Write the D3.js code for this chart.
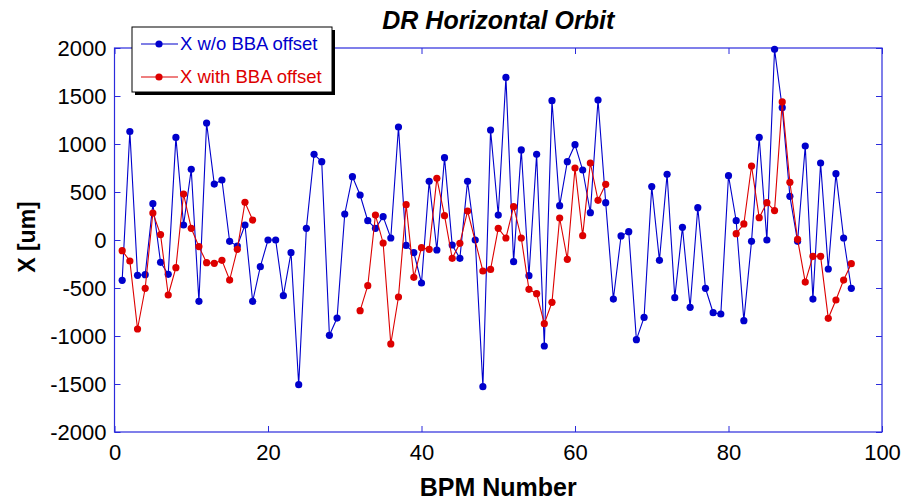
<!DOCTYPE html>
<html>
<head>
<meta charset="utf-8">
<script src="https://cdn.jsdelivr.net/npm/d3@7"></script>
<style>
  body { margin: 0; background: #fff; }
  text { font-family: Arial, "Liberation Sans", sans-serif; }
</style>
</head>
<body>
<div id="container"></div>
<script>
// BPM index for the uncorrected orbit (1..96)
var blueBpm = d3.range(1, 97);
var blueX = [
  -420, 1130, -368, -361, 378, -233, -358, 1069, 156, 736,
  -639, 1219, 583, 625, -14, -63, 156, -639, -278, 0,
  0, -580, -132, -1507, 122, 892, 816, -993, -813, 271,
  660, 469, 201, 122, 243, 21, 1177, -56, -132, -448,
  611, -104, 858, -52, -191, 611, 0, -1528, 1146, 260,
  1694, -226, 938, -372, 892, -1104, 1451, 358, 816, 993,
  729, 285, 1458, 389, -615, 42, 87, -1038, -806, 556,
  -212, 684, -601, 132, -701, 337, -503, -757, -771, 670,
  201, -840, -14, 1069, 0, 1986, 1378, 455, -14, 979,
  -615, 802, -302, 691, 21, -503
];

// corrected orbit: only some BPMs, null = gap in the line
var redBpm = [
  1, 2, 3, 4, 5, 6, 7, 8, 9, 10, 11, 12, 13, 14, 15, 16, 17, 18,
  null,
  32, 33, 34, 35, 36, 37, 38, 39, 40, 41, 42, 43, 44, 45, 46, 48, 49, 50,
  51, 52, 53, 54, 55, 56, 57, 58, 59, 60, 61, 62, 63, 64,
  null,
  81, 82, 83, 84, 85, 86, 87, 88, 89, 90, 91, 92, 93, 94, 95, 96
];
var redX = [
  -111, -219, -927, -503, 281, 56, -573, -288, 479, 122, -69, -236, -243, -212, -417, -97, 392, 208,
  null,
  -736, -476, 260, -31, -1083, -594, 368, -389, -80, -97, 642, 253, -191, -35, 302, -323, -306, 122,
  21, 347, 21, -514, -559, -872, -649, 229, -201, 750, 45, 802, 413, 580,
  null,
  66, 167, 771, 233, 389, 306, 1438, 601, 7, -438, -170, -170, -816, -625, -417, -247
];

var xTicks = [0, 20, 40, 60, 80, 100];
var yTicks = [-2000, -1500, -1000, -500, 0, 500, 1000, 1500, 2000];
var seriesNames = ["X w/o BBA offset", "X with BBA offset"];

var w = 906, h = 500;
var plotL = 114.5, plotR = 882, plotT = 48, plotB = 432;
var axisColor = "#2b2bdc";
var blueColor = "#0000cc";
var redColor = "#dd0000";

var svg = d3.select("div#container")
            .append("svg")
            .attr("width", w)
            .attr("height", h);

var x = d3.scaleLinear().domain([0, 100]).range([plotL, plotR]);
var y = d3.scaleLinear().domain([-2000, 2000]).range([plotB, plotT]);

// axes with inward ticks, box style
var tick = 6;
var fmt = d => String(d);
svg.append("g")
   .attr("transform", "translate(0," + plotB + ")")
   .call(d3.axisBottom(x).tickValues(xTicks).tickFormat(fmt).tickSizeInner(-tick).tickSizeOuter(0).tickPadding(12))
   .call(g => g.select(".domain").remove());
svg.append("g")
   .attr("transform", "translate(0," + plotT + ")")
   .call(d3.axisTop(x).tickValues(xTicks).tickSizeInner(-tick).tickSizeOuter(0).tickFormat(""))
   .call(g => g.select(".domain").remove());
svg.append("g")
   .attr("transform", "translate(" + plotL + ",0)")
   .call(d3.axisLeft(y).tickValues(yTicks).tickFormat(fmt).tickSizeInner(-tick).tickSizeOuter(0).tickPadding(8))
   .call(g => g.select(".domain").remove());
svg.append("g")
   .attr("transform", "translate(" + plotR + ",0)")
   .call(d3.axisRight(y).tickValues(yTicks).tickSizeInner(-tick).tickSizeOuter(0).tickFormat(""))
   .call(g => g.select(".domain").remove());

svg.selectAll(".tick line").attr("stroke", axisColor);
svg.selectAll(".tick text")
   .attr("fill", "#000")
   .style("font-size", "22px")
   .style("font-family", "Arial, 'Liberation Sans', sans-serif");

svg.append("rect")
   .attr("x", plotL).attr("y", plotT)
   .attr("width", plotR - plotL).attr("height", plotB - plotT)
   .attr("fill", "none")
   .attr("stroke", axisColor)
   .attr("stroke-width", 1.2);

// lines + markers
var line = d3.line()
             .defined(d => d[1] !== null)
             .x(d => x(d[0]))
             .y(d => y(d[1]));

var blueData = blueBpm.map((b, i) => [b, blueX[i]]);
var redData = redBpm.map((b, i) => [b, redX[i]]);

function drawSeries(data, color) {
    svg.append("path")
       .datum(data)
       .attr("fill", "none")
       .attr("stroke", color)
       .attr("stroke-width", 1.1)
       .attr("d", line);
    svg.append("g")
       .selectAll("circle")
       .data(data.filter(d => d[1] !== null))
       .enter()
       .append("circle")
       .attr("cx", d => x(d[0]))
       .attr("cy", d => y(d[1]))
       .attr("r", 3.6)
       .attr("fill", color);
}
drawSeries(blueData, blueColor);
drawSeries(redData, redColor);

// titles
svg.append("text")
   .attr("x", (plotL + plotR) / 2).attr("y", 29)
   .attr("text-anchor", "middle")
   .style("font-size", "25px").style("font-weight", "bold").style("font-style", "italic")
   .text("DR Horizontal Orbit");
svg.append("text")
   .attr("x", (plotL + plotR) / 2).attr("y", 496)
   .attr("text-anchor", "middle")
   .style("font-size", "25px").style("font-weight", "bold")
   .text("BPM Number");
svg.append("text")
   .attr("transform", "translate(35,237) rotate(-90)")
   .attr("text-anchor", "middle")
   .style("font-size", "23px").style("font-weight", "bold")
   .text("X [um]");

// legend
var lg = svg.append("g").attr("transform", "translate(132,27)");
lg.append("rect").attr("x", 3).attr("y", 3).attr("width", 200).attr("height", 65).attr("fill", "#000");
lg.append("rect").attr("x", 0).attr("y", 0).attr("width", 200).attr("height", 65)
  .attr("fill", "#fff").attr("stroke", "#000").attr("stroke-width", 1);
[blueColor, redColor].forEach(function(c, i) {
    var yy = 17 + i * 33;
    lg.append("line").attr("x1", 9).attr("x2", 46).attr("y1", yy).attr("y2", yy)
      .attr("stroke", c).attr("stroke-width", 1.1);
    lg.append("circle").attr("cx", 27).attr("cy", yy).attr("r", 3.6).attr("fill", c);
    lg.append("text").attr("x", 48).attr("y", yy + 6)
      .attr("fill", c)
      .style("font-size", "18.5px")
      .text(seriesNames[i]);
});
</script>
</body>
</html>
